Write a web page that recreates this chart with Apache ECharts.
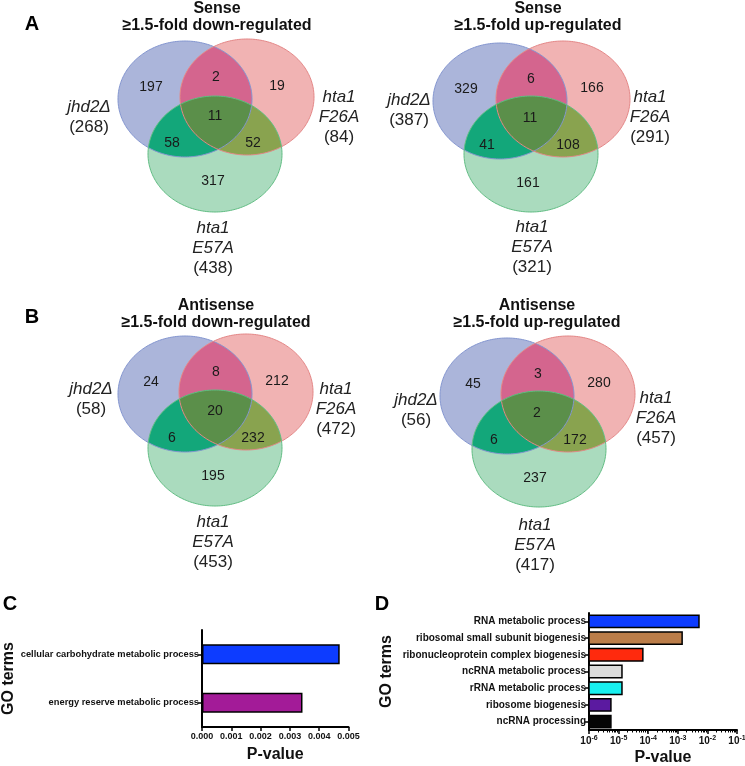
<!DOCTYPE html>
<html><head><meta charset="utf-8">
<script src="https://cdn.jsdelivr.net/npm/echarts@6.0.0/dist/echarts.min.js"></script>
<style>html,body{margin:0;padding:0;background:#fff}#c{width:745px;height:766px}</style>
</head><body><div id="c"></div>
<script>
// ---------------- data ----------------
const setNames = ['jhd2Δ', 'hta1 F26A', 'hta1 E57A'];
const regionKeys = ['A', 'B', 'C', 'AB', 'AC', 'BC', 'ABC'];
const senseDownCounts = [197, 19, 317, 2, 58, 52, 11];
const senseDownTotals = [268, 84, 438];
const senseUpCounts = [329, 166, 161, 6, 41, 108, 11];
const senseUpTotals = [387, 291, 321];
const antiDownCounts = [24, 212, 195, 8, 6, 232, 20];
const antiDownTotals = [58, 472, 453];
const antiUpCounts = [45, 280, 237, 3, 6, 172, 2];
const antiUpTotals = [56, 457, 417];
const vennTitles = ['Sense\n≥1.5-fold down-regulated', 'Sense\n≥1.5-fold up-regulated',
                    'Antisense\n≥1.5-fold down-regulated', 'Antisense\n≥1.5-fold up-regulated'];

const goTermsC = ['cellular carbohydrate metabolic process', 'energy reserve metabolic process'];
const pValuesC = [0.0047, 0.00343];
const goTermsD = ['RNA metabolic process', 'ribosomal small subunit biogenesis',
  'ribonucleoprotein complex biogenesis', 'ncRNA metabolic process', 'rRNA metabolic process',
  'ribosome biogenesis', 'ncRNA processing'];
const pValuesD = [5.2e-3, 1.4e-3, 6.6e-5, 1.3e-5, 1.3e-5, 5.5e-6, 5.5e-6];
const ticksC = ['0.000', '0.001', '0.002', '0.003', '0.004', '0.005'];
const logMinD = 1e-6, logMaxD = 1e-1;

// ---------------- styles / layout ----------------
const FONT = '"Liberation Sans", Arial, sans-serif';
const colorsC = ['#0d3cff', '#a31b98'];
const colorsD = ['#0d3cff', '#bb7d49', '#ff2a0d', '#dcdcdc', '#18f0f0', '#5b1aa0', '#050505'];
const regionColors = { A: '#abb5da', B: '#f1b3b3', C: '#aadbbe', AB: '#d4658e', AC: '#13a77a', BC: '#89a34f', ABC: '#5b8f4a' };
const strokeColors = ['#8496d0', '#e48787', '#62bd84'];
const RX = 67, RY = 58;
const countOffsets = [[-34, -12], [92, -13], [28, 82], [31, -22], [-13, 44], [68, 44], [30, 17]];
const vennLayouts = [
  { ell: [[185, 99], [247, 97], [215, 154]], lab: [[89, 107], [339, 97], [213, 228]], title: [217, 8] },
  { ell: [[500, 101], [563, 99], [531, 154]], lab: [[409, 100], [650, 97], [532, 227]], title: [538, 8] },
  { ell: [[185, 394], [246, 392], [215, 448]], lab: [[91, 389], [336, 389], [213, 522]], title: [216, 305] },
  { ell: [[507, 396], [568, 394], [539, 449]], lab: [[416, 400], [656, 398], [535, 525]], title: [537, 305] }
];

function ellipsePts(e, n) {
  const pts = [];
  for (let k = 0; k < n; k++) {
    const t = 2 * Math.PI * k / n;
    pts.push([e.cx + e.rx * Math.cos(t), e.cy + e.ry * Math.sin(t)]);
  }
  return pts;
}
function inside(p, e) {
  const dx = (p[0] - e.cx) / e.rx, dy = (p[1] - e.cy) / e.ry;
  return dx * dx + dy * dy <= 1.000001;
}
function intersectPts(es) {
  const pts = [];
  es.forEach((e, k) => {
    ellipsePts(e, 720).forEach(p => {
      if (es.every((o, j) => j === k || inside(p, o))) pts.push(p);
    });
  });
  let mx = 0, my = 0;
  pts.forEach(p => { mx += p[0]; my += p[1]; });
  mx /= pts.length; my /= pts.length;
  pts.sort((a, b) => Math.atan2(a[1] - my, a[0] - mx) - Math.atan2(b[1] - my, b[0] - mx));
  return pts;
}

function makeVenn(counts, totals, layout) {
  const ells = layout.ell.map(c => ({ cx: c[0], cy: c[1], rx: RX, ry: RY }));
  return {
    type: 'custom', coordinateSystem: 'none', silent: true, animation: false,
    data: counts.map((v, i) => ({ value: v, name: regionKeys[i] })),
    renderItem: function (params, api) {
      const i = params.dataIndex;
      const key = regionKeys[i];
      const members = key.split('').map(ch => 'ABC'.indexOf(ch));
      const children = [];
      const single = members.length === 1;
      const pts = single ? ellipsePts(ells[members[0]], 240) : intersectPts(members.map(m => ells[m]));
      children.push({ type: 'polygon', shape: { points: pts }, style: { fill: regionColors[key] },
        z2: single ? 1 + i : (members.length === 2 ? 10 : 20) });
      if (single) {
        children.push({ type: 'polygon', shape: { points: pts },
          style: { fill: null, stroke: strokeColors[i], lineWidth: 1 }, z2: 30 });
        const lines = setNames[i].split(' ');
        const lp = layout.lab[i];
        lines.forEach((ln, k) => {
          children.push({ type: 'text', x: lp[0], y: lp[1] + k * 20, z2: 50,
            style: { text: ln, align: 'center', verticalAlign: 'middle', fill: '#222',
              font: 'italic 17px ' + FONT } });
        });
        children.push({ type: 'text', x: lp[0], y: lp[1] + lines.length * 20, z2: 50,
          style: { text: '(' + totals[i] + ')', align: 'center', verticalAlign: 'middle', fill: '#222',
            font: '17px ' + FONT } });
      }
      const off = countOffsets[i];
      children.push({ type: 'text', x: ells[0].cx + off[0], y: ells[0].cy + off[1], z2: 50,
        style: { text: String(api.value(0)), align: 'center', verticalAlign: 'middle', fill: '#1a1a1a',
          font: '14px ' + FONT } });
      return { type: 'group', children: children };
    }
  };
}

function logLabel(v) {
  const e = Math.round(Math.log10(v));
  return '{b|10}{s|' + e + '}';
}

const graphics = [];
vennLayouts.forEach((L, k) => {
  graphics.push({ type: 'text', x: L.title[0], y: L.title[1] - 8,
    style: { text: vennTitles[k], align: 'center', verticalAlign: 'top', fill: '#111',
      font: 'bold 16px ' + FONT, lineHeight: 17 } });
});
[['A', 32, 24], ['B', 32, 317], ['C', 10, 604], ['D', 382, 604]].forEach(t => {
  graphics.push({ type: 'text', x: t[1], y: t[2], style: { text: t[0], align: 'center', verticalAlign: 'middle',
    fill: '#000', font: 'bold 20px ' + FONT } });
});

const axisLineStyle = { color: '#000', width: 2 };
const labelBold = { fontFamily: FONT, fontWeight: 'bold', color: '#111' };
const nameStyle = { fontFamily: FONT, fontWeight: 'bold', fontSize: 16, color: '#111' };

const option = {
  animation: false,
  backgroundColor: '#fff',
  graphic: graphics,
  grid: [
    { left: 202, top: 630, width: 146.5, height: 97, containLabel: false, outerBoundsMode: 'none' },
    { left: 589, top: 613, width: 148, height: 117, containLabel: false, outerBoundsMode: 'none' }
  ],
  xAxis: [
    { gridIndex: 0, type: 'value', min: 0, max: 0.005, interval: 0.001,
      axisLine: { show: true, lineStyle: axisLineStyle },
      axisTick: { show: true, length: 4, lineStyle: { color: '#000', width: 1.5 } },
      splitLine: { show: false },
      axisLabel: Object.assign({ fontSize: 9, margin: 5, formatter: (v) => ticksC[Math.round(v * 1000)] }, labelBold),
      name: 'P-value', nameLocation: 'middle', nameGap: 20, nameTextStyle: nameStyle },
    { gridIndex: 1, type: 'log', logBase: 10, min: logMinD, max: logMaxD,
      axisLine: { show: true, lineStyle: axisLineStyle },
      axisTick: { show: true, length: 4, lineStyle: { color: '#000', width: 1.5 } },
      minorTick: { show: true, splitNumber: 9, length: 2.5, lineStyle: { color: '#000', width: 1 } },
      splitLine: { show: false }, minorSplitLine: { show: false },
      axisLabel: Object.assign({ margin: 5, formatter: logLabel,
        rich: { b: { fontSize: 10, fontWeight: 'bold', fontFamily: FONT, color: '#111' },
                s: { fontSize: 7, fontWeight: 'bold', fontFamily: FONT, color: '#111', padding: [0, 0, 6, 0] } } }, labelBold),
      name: 'P-value', nameLocation: 'middle', nameGap: 20, nameTextStyle: nameStyle },
  ],
  yAxis: [
    { gridIndex: 0, type: 'category', data: goTermsC, inverse: true,
      axisLine: { show: true, lineStyle: axisLineStyle },
      axisTick: { show: true, length: 4, alignWithLabel: true, lineStyle: { color: '#000', width: 1.5 } },
      axisLabel: Object.assign({ fontSize: 9.3, margin: 3 }, labelBold),
      name: 'GO terms', nameLocation: 'middle', nameRotate: 90, nameGap: 184, nameTextStyle: nameStyle },
    { gridIndex: 1, type: 'category', data: goTermsD, inverse: true,
      axisLine: { show: true, lineStyle: axisLineStyle },
      axisTick: { show: true, length: 4, alignWithLabel: true, lineStyle: { color: '#000', width: 1.5 } },
      axisLabel: Object.assign({ fontSize: 10, margin: 3, interval: 0 }, labelBold),
      name: 'GO terms', nameLocation: 'middle', nameRotate: 90, nameGap: 194, nameTextStyle: nameStyle }
  ],
  series: [
    makeVenn(senseDownCounts, senseDownTotals, vennLayouts[0]),
    makeVenn(senseUpCounts, senseUpTotals, vennLayouts[1]),
    makeVenn(antiDownCounts, antiDownTotals, vennLayouts[2]),
    makeVenn(antiUpCounts, antiUpTotals, vennLayouts[3]),
    { type: 'bar', xAxisIndex: 0, yAxisIndex: 0, barWidth: 20,
      data: pValuesC.map((v, i) => ({ value: v, itemStyle: { color: colorsC[i] } })),
      itemStyle: { borderColor: '#000', borderWidth: 1.5 } },
    { type: 'custom', xAxisIndex: 1, yAxisIndex: 1, coordinateSystem: 'cartesian2d',
      data: pValuesD.map((v, i) => [v, i]), encode: { x: 0, y: 1 },
      renderItem: function (params, api) {
        const v = api.value(0), c = api.value(1);
        const start = api.coord([logMinD, c]);
        const end = api.coord([v, c]);
        let h = api.size([1, 1])[1] * 0.74;
        if (!isFinite(h)) h = 12;
        return { type: 'rect', shape: { x: start[0], y: start[1] - h / 2, width: end[0] - start[0], height: h },
          style: { fill: colorsD[params.dataIndex], stroke: '#000', lineWidth: 1.5 } };
      } }
  ]
};
const chart = echarts.init(document.getElementById('c'), null, { renderer: 'canvas' });
chart.setOption(option);
</script></body></html>
